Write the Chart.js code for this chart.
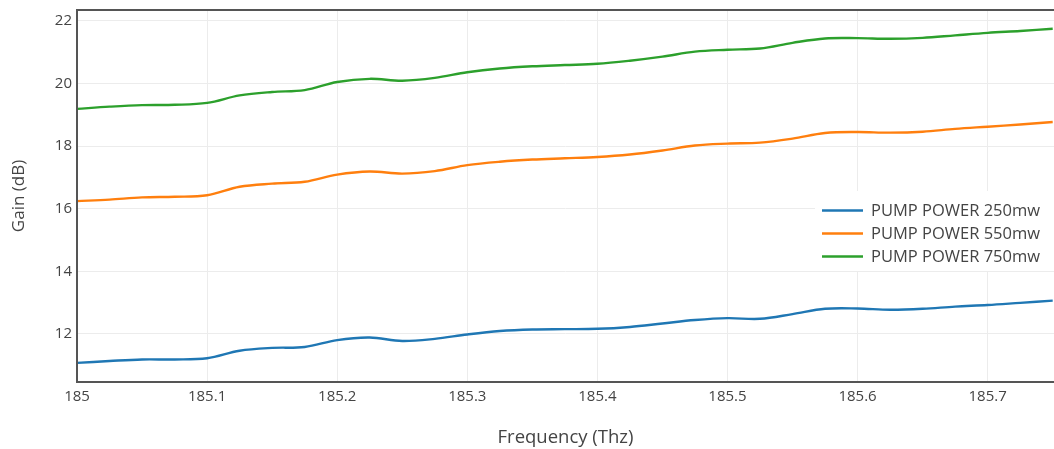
<!DOCTYPE html>
<html>
<head>
<meta charset="utf-8">
<title>Gain vs Frequency</title>
<script src="https://cdn.jsdelivr.net/npm/chart.js@4.4.1/dist/chart.umd.min.js"></script>
<style>
  html, body { margin: 0; padding: 0; background: #fff; }
  #wrap { width: 1054px; height: 449px; position: relative; }
</style>
</head>
<body>
<div id="wrap"><canvas id="chart" width="1054" height="449"></canvas></div>
<script>
// Frequency samples (THz)
const frequency = [
  185.000, 185.025, 185.050, 185.075, 185.100, 185.125, 185.150, 185.175,
  185.200, 185.225, 185.250, 185.275, 185.300, 185.325, 185.350, 185.375,
  185.400, 185.425, 185.450, 185.475, 185.500, 185.525, 185.550, 185.575,
  185.600, 185.625, 185.650, 185.675, 185.700, 185.725, 185.750
];

// Gain (dB) for each pump power
const gain250 = [
  11.07, 11.13, 11.18, 11.18, 11.22, 11.46, 11.55, 11.58,
  11.80, 11.88, 11.77, 11.84, 11.98, 12.09, 12.14, 12.15,
  12.16, 12.22, 12.33, 12.44, 12.50, 12.48, 12.63, 12.80,
  12.81, 12.77, 12.80, 12.87, 12.92, 12.99, 13.06
];
const gain550 = [
  16.24, 16.29, 16.36, 16.38, 16.43, 16.70, 16.80, 16.86,
  17.09, 17.19, 17.12, 17.20, 17.39, 17.50, 17.57, 17.61,
  17.65, 17.73, 17.86, 18.02, 18.08, 18.11, 18.24, 18.42,
  18.45, 18.43, 18.46, 18.55, 18.62, 18.69, 18.77
];
const gain750 = [
  19.19, 19.26, 19.31, 19.32, 19.38, 19.62, 19.73, 19.79,
  20.05, 20.15, 20.09, 20.18, 20.36, 20.48, 20.55, 20.59,
  20.63, 20.73, 20.86, 21.02, 21.08, 21.12, 21.30, 21.44,
  21.45, 21.43, 21.46, 21.54, 21.62, 21.68, 21.75
];

const seriesLabels = ['PUMP POWER 250mw', 'PUMP POWER 550mw', 'PUMP POWER 750mw'];
const seriesColors = ['#1f77b4', '#ff7f0e', '#2ca02c'];

const xTicks = [185, 185.1, 185.2, 185.3, 185.4, 185.5, 185.6, 185.7];
const yTicks = [12, 14, 16, 18, 20, 22];

const FONT = '"Open Sans", "Noto Sans", sans-serif';
const TEXT = '#444';

function pts(ys) { return frequency.map((x, i) => ({ x: x, y: ys[i] })); }

// Frame around the plotting area (left, top, bottom lines)
const frame = {
  id: 'frame',
  afterDatasetsDraw(chart) {
    const { ctx, chartArea: a } = chart;
    ctx.save();
    ctx.strokeStyle = '#555';
    ctx.lineWidth = 2;
    ctx.beginPath();
    ctx.moveTo(a.right + 2, a.top);
    ctx.lineTo(a.left, a.top);
    ctx.lineTo(a.left, a.bottom);
    ctx.lineTo(a.right + 2, a.bottom);
    ctx.stroke();
    ctx.restore();
  }
};

// Legend box drawn inside the plot, at the right side
const insideLegend = {
  id: 'insideLegend',
  afterDraw(chart) {
    const { ctx, chartArea: a } = chart;
    const boxLeft = a.right - 239;
    const boxTop = 191;
    ctx.save();
    ctx.fillStyle = '#fff';
    ctx.fillRect(boxLeft, boxTop, a.right - boxLeft, 80);
    ctx.font = '16.5px ' + FONT;
    ctx.textBaseline = 'middle';
    ctx.textAlign = 'left';
    chart.data.datasets.forEach((ds, i) => {
      const y = boxTop + 19.5 + i * 23;
      ctx.strokeStyle = ds.borderColor;
      ctx.lineWidth = 2.5;
      ctx.beginPath();
      ctx.moveTo(boxLeft + 7, y);
      ctx.lineTo(boxLeft + 48, y);
      ctx.stroke();
      ctx.fillStyle = TEXT;
      ctx.fillText(ds.label, boxLeft + 56, y + 1);
    });
    ctx.restore();
  }
};

new Chart(document.getElementById('chart'), {
  type: 'line',
  data: {
    datasets: [gain250, gain550, gain750].map((g, i) => ({
      label: seriesLabels[i],
      data: pts(g),
      borderColor: seriesColors[i],
      backgroundColor: seriesColors[i],
      borderWidth: 2.4,
      pointRadius: 0,
      tension: 0.35,
      fill: false
    }))
  },
  options: {
    responsive: false,
    animation: false,
    devicePixelRatio: 1,
    layout: { padding: { top: 10, right: 0, left: 0, bottom: 0 } },
    plugins: {
      legend: { display: false },
      tooltip: { enabled: false },
      title: { display: false }
    },
    scales: {
      x: {
        type: 'linear',
        min: 185,
        max: 185.751,
        afterBuildTicks(scale) { scale.ticks = xTicks.map(v => ({ value: v })); },
        afterFit(scale) { scale.height = 67; scale.paddingLeft = 0; scale.paddingRight = 0; },
        grid: { color: '#ececec', lineWidth: 1, drawTicks: false },
        border: { display: false },
        ticks: {
          color: TEXT,
          font: { family: FONT, size: 15 },
          padding: 6,
          maxRotation: 0,
          autoSkip: false,
          callback: v => (Math.abs(v - 185) < 1e-9 ? '185' : v.toFixed(1))
        },
        title: {
          display: true,
          text: 'Frequency (Thz)',
          color: TEXT,
          font: { family: FONT, size: 18.5 },
          padding: { top: 0, bottom: 0 }
        }
      },
      y: {
        min: 10.46,
        max: 22.35,
        afterBuildTicks(scale) { scale.ticks = yTicks.map(v => ({ value: v })); },
        afterFit(scale) { scale.width = 77; scale.paddingTop = 0; scale.paddingBottom = 0; },
        grid: { color: '#ececec', lineWidth: 1, drawTicks: false },
        border: { display: false },
        ticks: {
          color: TEXT,
          font: { family: FONT, size: 15 },
          padding: 5,
          autoSkip: false
        },
        title: {
          display: true,
          text: 'Gain (dB)',
          color: TEXT,
          font: { family: FONT, size: 17 },
          padding: { top: 9, bottom: 0 }
        }
      }
    }
  },
  plugins: [frame, insideLegend]
});
</script>
</body>
</html>
